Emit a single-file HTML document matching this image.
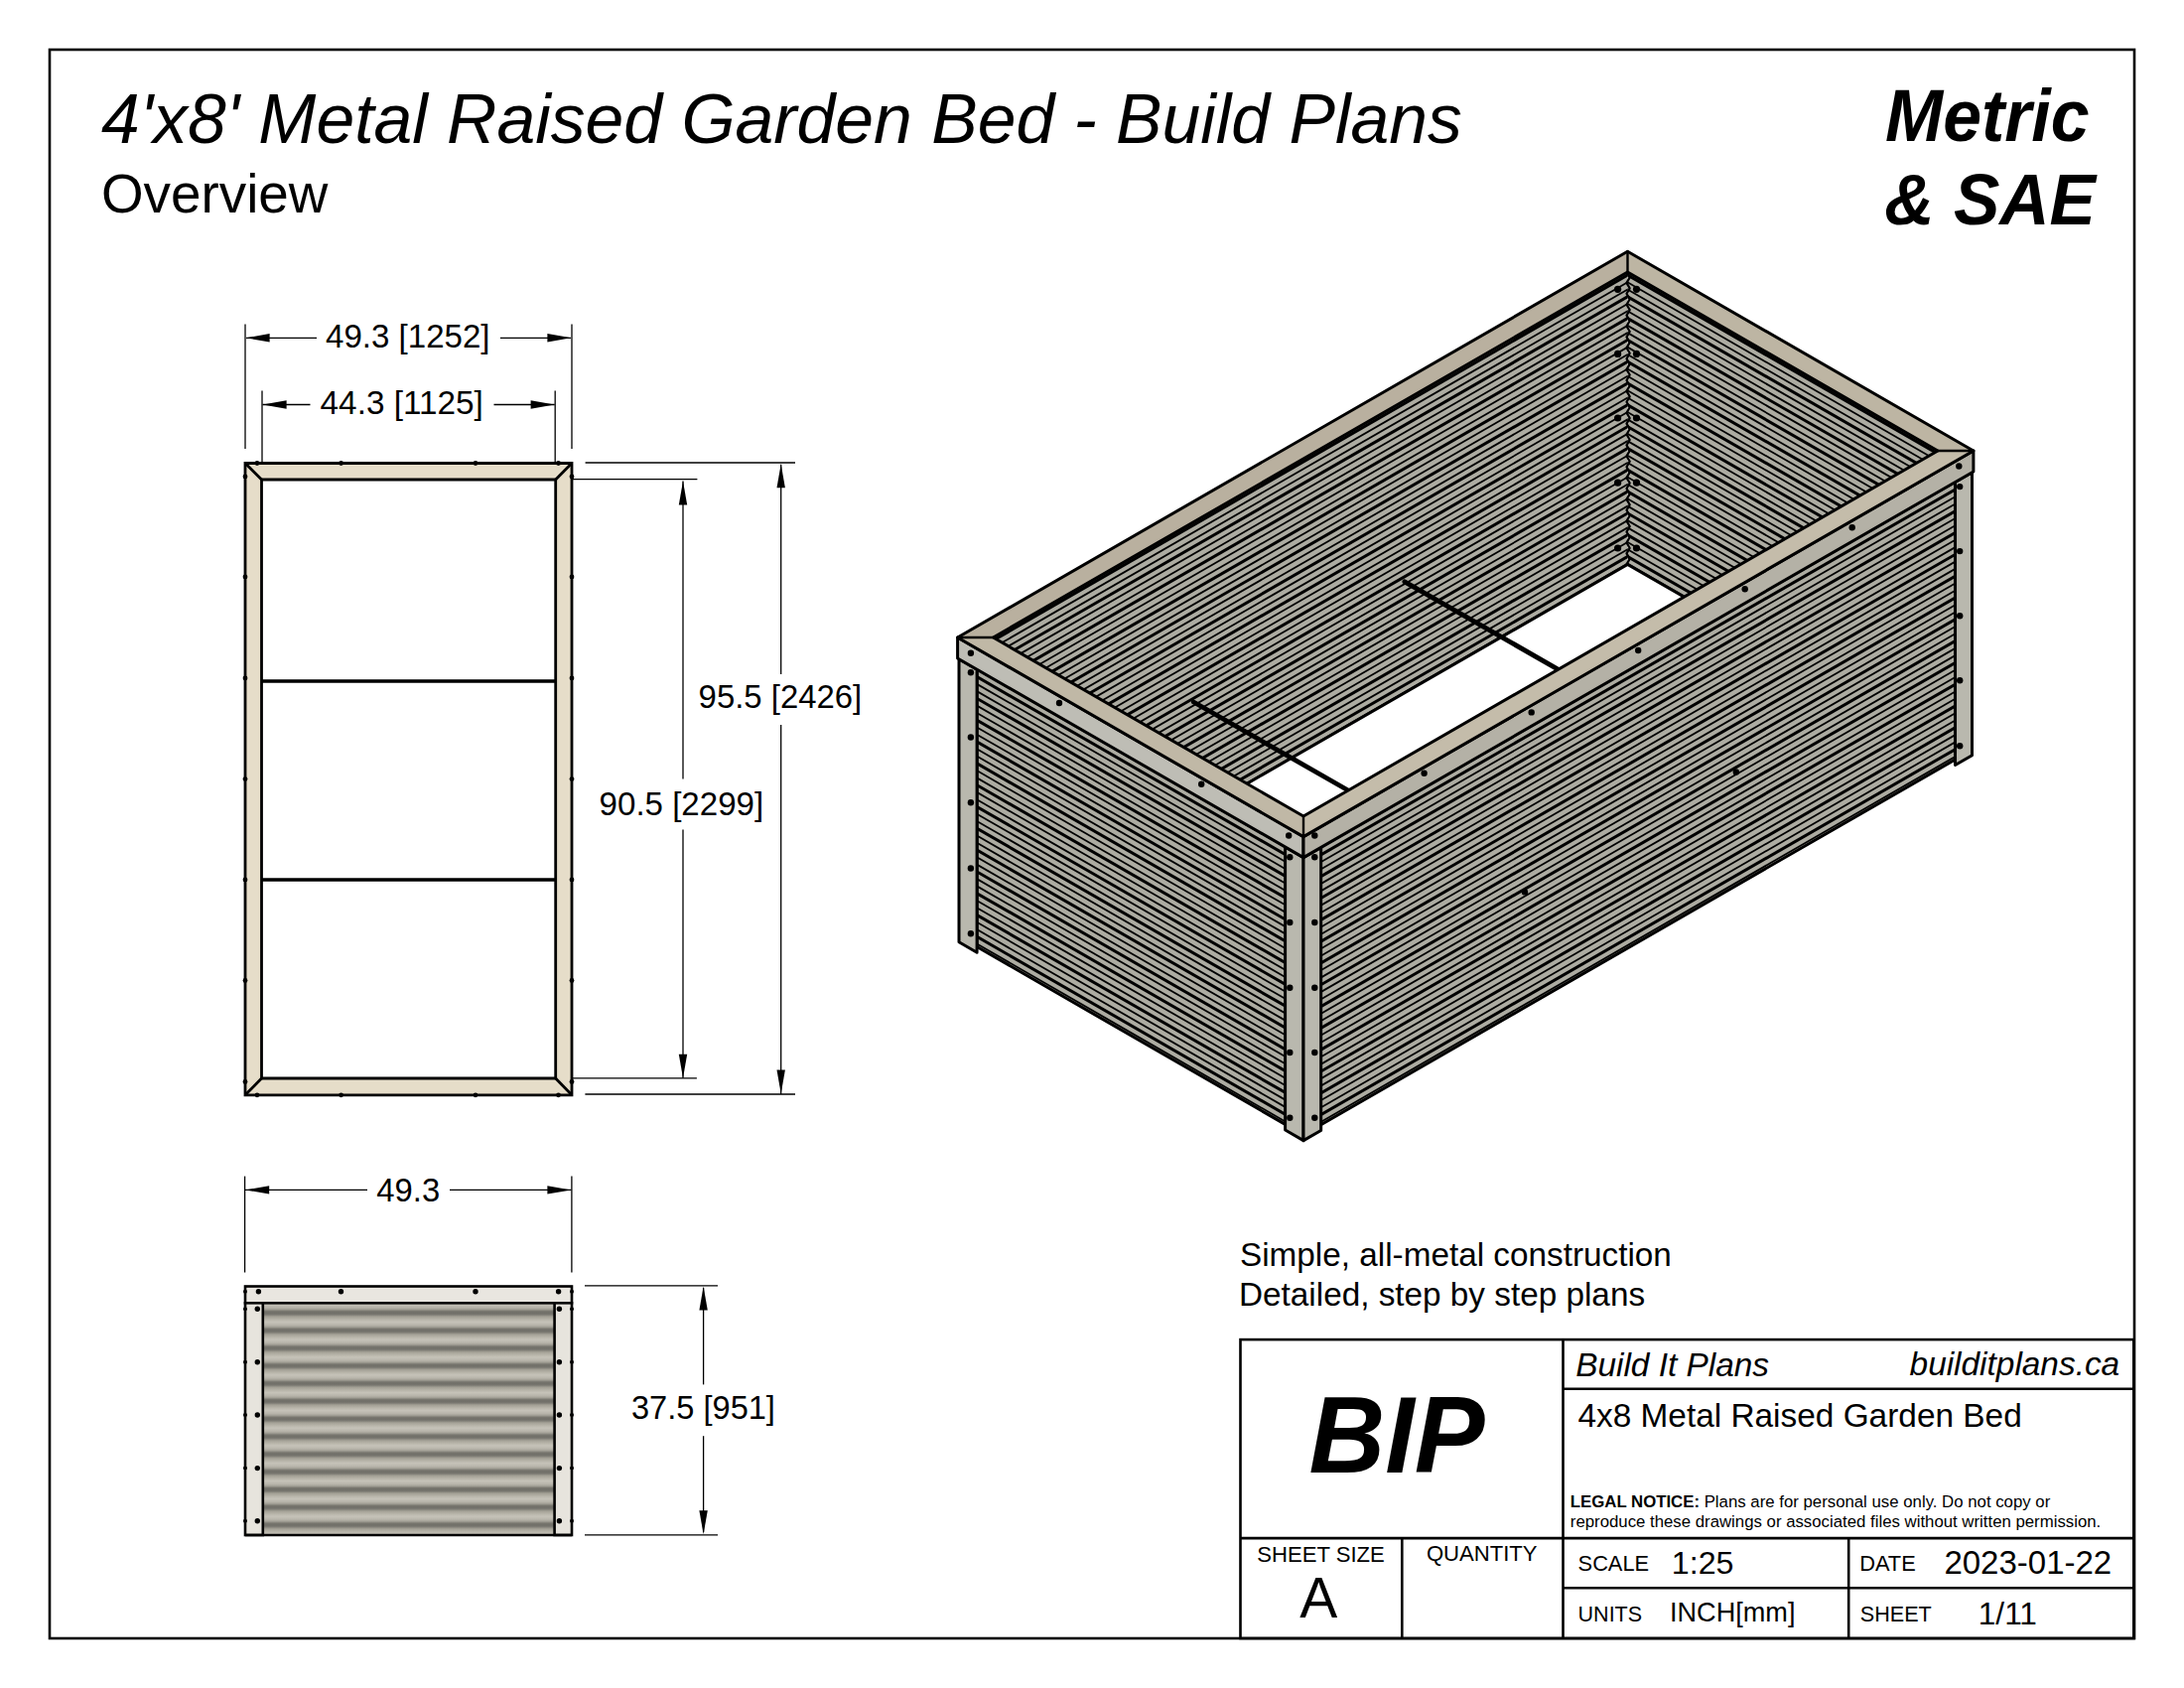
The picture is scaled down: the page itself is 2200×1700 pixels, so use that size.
<!DOCTYPE html><html><head><meta charset="utf-8"><style>html,body{margin:0;padding:0;background:#fff;}svg{display:block;}text{font-family:"Liberation Sans",sans-serif;fill:#000;}</style></head><body>
<svg width="2200" height="1700" viewBox="0 0 2200 1700">
<defs>
<linearGradient id="cg" x1="0" y1="0" x2="0" y2="1"><stop offset="0" stop-color="#6f6e67"/><stop offset="0.11" stop-color="#7a7871"/><stop offset="0.22" stop-color="#a3a095"/><stop offset="0.4" stop-color="#b9b6ab"/><stop offset="0.52" stop-color="#c6c3b9"/><stop offset="0.7" stop-color="#b8b5ab"/><stop offset="0.82" stop-color="#a09e94"/><stop offset="0.9" stop-color="#7b7971"/><stop offset="1" stop-color="#6f6e67"/></linearGradient>
<pattern id="corr" patternUnits="userSpaceOnUse" x="0" y="1304.2" width="20" height="17.8"><rect width="20" height="17.8" fill="url(#cg)"/></pattern>
</defs>
<rect width="2200" height="1700" fill="#fff"/>
<rect x="50" y="50" width="2100" height="1600" fill="none" stroke="#000" stroke-width="2.6"/>
<text x="102" y="144.2" font-size="69.7" font-style="italic">4'x8' Metal Raised Garden Bed - Build Plans</text>
<text x="102" y="214.2" font-size="54.8">Overview</text>
<text transform="translate(1899,142) scale(1,1.055)" font-size="69.8" font-style="italic" font-weight="bold">Metric</text>
<text transform="translate(1898.3,226) scale(1,1.045)" font-size="69.6" font-style="italic" font-weight="bold">&amp; SAE</text>
<path d="M247,466.5H576V1102.8H247Z M263.5,483V1086H559.7V483Z" fill="#e6ddc9" fill-rule="evenodd" stroke="#000" stroke-width="2.8" stroke-linejoin="miter"/>
<line x1="247" y1="466.5" x2="263.5" y2="483" stroke="#000" stroke-width="2.8" />
<line x1="576" y1="466.5" x2="559.7" y2="483" stroke="#000" stroke-width="2.8" />
<line x1="247" y1="1102.8" x2="263.5" y2="1086" stroke="#000" stroke-width="2.8" />
<line x1="576" y1="1102.8" x2="559.7" y2="1086" stroke="#000" stroke-width="2.8" />
<line x1="263.5" y1="686" x2="559.7" y2="686" stroke="#000" stroke-width="3.6" />
<line x1="263.5" y1="886" x2="559.7" y2="886" stroke="#000" stroke-width="3.6" />
<circle cx="259" cy="466.5" r="2.4"/>
<circle cx="259" cy="1102.8" r="2.4"/>
<circle cx="343.6" cy="466.5" r="2.4"/>
<circle cx="343.6" cy="1102.8" r="2.4"/>
<circle cx="479" cy="466.5" r="2.4"/>
<circle cx="479" cy="1102.8" r="2.4"/>
<circle cx="562.5" cy="466.5" r="2.4"/>
<circle cx="562.5" cy="1102.8" r="2.4"/>
<circle cx="247" cy="480" r="2.4"/>
<circle cx="576" cy="480" r="2.4"/>
<circle cx="247" cy="581" r="2.4"/>
<circle cx="576" cy="581" r="2.4"/>
<circle cx="247" cy="683" r="2.4"/>
<circle cx="576" cy="683" r="2.4"/>
<circle cx="247" cy="784.6" r="2.4"/>
<circle cx="576" cy="784.6" r="2.4"/>
<circle cx="247" cy="886" r="2.4"/>
<circle cx="576" cy="886" r="2.4"/>
<circle cx="247" cy="987.5" r="2.4"/>
<circle cx="576" cy="987.5" r="2.4"/>
<circle cx="247" cy="1089.5" r="2.4"/>
<circle cx="576" cy="1089.5" r="2.4"/>
<line x1="247" y1="326.6" x2="247" y2="452" stroke="#000" stroke-width="1.3" />
<line x1="576" y1="326.6" x2="576" y2="452" stroke="#000" stroke-width="1.3" />
<line x1="264" y1="393.4" x2="264" y2="466" stroke="#000" stroke-width="1.3" />
<line x1="559.2" y1="393.4" x2="559.2" y2="466" stroke="#000" stroke-width="1.3" />
<line x1="248" y1="340.3" x2="319" y2="340.3" stroke="#000" stroke-width="1.3" />
<line x1="503.9" y1="340.3" x2="575" y2="340.3" stroke="#000" stroke-width="1.3" />
<polygon points="247.6,340.3 271.6,344.5 271.6,336.1"/>
<polygon points="575.4,340.3 551.4,336.1 551.4,344.5"/>
<text x="328" y="349.5" font-size="33.1">49.3 [1252]</text>
<line x1="264.5" y1="407.5" x2="312.5" y2="407.5" stroke="#000" stroke-width="1.3" />
<line x1="497.5" y1="407.5" x2="558.7" y2="407.5" stroke="#000" stroke-width="1.3" />
<polygon points="264.6,407.5 288.6,411.7 288.6,403.3"/>
<polygon points="558.6,407.5 534.6,403.3 534.6,411.7"/>
<text x="322.6" y="416.7" font-size="33.3">44.3 [1125]</text>
<line x1="589.6" y1="466" x2="801" y2="466" stroke="#000" stroke-width="1.3" />
<line x1="577" y1="482.6" x2="702.4" y2="482.6" stroke="#000" stroke-width="1.3" />
<line x1="577" y1="1085.8" x2="701.9" y2="1085.8" stroke="#000" stroke-width="1.3" />
<line x1="589.4" y1="1102" x2="801" y2="1102" stroke="#000" stroke-width="1.3" />
<line x1="688" y1="484.4" x2="688" y2="784.6" stroke="#000" stroke-width="1.3" />
<line x1="688" y1="835.6" x2="688" y2="1085.8" stroke="#000" stroke-width="1.3" />
<polygon points="688,484.4 683.8,508.4 692.2,508.4"/>
<polygon points="688,1085.8 692.2,1061.8 683.8,1061.8"/>
<text x="603.6" y="820.7" font-size="33.1">90.5 [2299]</text>
<line x1="786.7" y1="467.8" x2="786.7" y2="679" stroke="#000" stroke-width="1.3" />
<line x1="786.7" y1="729.9" x2="786.7" y2="1102" stroke="#000" stroke-width="1.3" />
<polygon points="786.7,467.2 782.5,491.2 790.9,491.2"/>
<polygon points="786.7,1101.6 790.9,1077.6 782.5,1077.6"/>
<text x="703.6" y="713.2" font-size="32.9">95.5 [2426]</text>
<rect x="264.8" y="1312.3" width="293.8" height="233.70000000000005" fill="url(#corr)"/>
<rect x="247" y="1295.5" width="329" height="16.799999999999955" fill="#e9e6e0" stroke="#000" stroke-width="2.6"/>
<rect x="247" y="1312.3" width="17.8" height="233.70000000000005" fill="#e7e4dd" stroke="#000" stroke-width="2.6"/>
<rect x="558.6" y="1312.3" width="17.4" height="233.70000000000005" fill="#e7e4dd" stroke="#000" stroke-width="2.6"/>
<line x1="247" y1="1546" x2="576" y2="1546" stroke="#000" stroke-width="2.6" />
<circle cx="260.4" cy="1300.7" r="2.7"/>
<circle cx="343.5" cy="1300.7" r="2.7"/>
<circle cx="479" cy="1300.7" r="2.7"/>
<circle cx="562.6" cy="1300.7" r="2.7"/>
<circle cx="259.3" cy="1318.2" r="2.7"/>
<circle cx="563.4" cy="1318.2" r="2.7"/>
<circle cx="247" cy="1318.2" r="2.0"/>
<circle cx="576" cy="1318.2" r="2.0"/>
<circle cx="259.3" cy="1371.8" r="2.7"/>
<circle cx="563.4" cy="1371.8" r="2.7"/>
<circle cx="247" cy="1371.8" r="2.0"/>
<circle cx="576" cy="1371.8" r="2.0"/>
<circle cx="259.3" cy="1425" r="2.7"/>
<circle cx="563.4" cy="1425" r="2.7"/>
<circle cx="247" cy="1425" r="2.0"/>
<circle cx="576" cy="1425" r="2.0"/>
<circle cx="259.3" cy="1478.6" r="2.7"/>
<circle cx="563.4" cy="1478.6" r="2.7"/>
<circle cx="247" cy="1478.6" r="2.0"/>
<circle cx="576" cy="1478.6" r="2.0"/>
<circle cx="259.3" cy="1531.7" r="2.7"/>
<circle cx="563.4" cy="1531.7" r="2.7"/>
<circle cx="247" cy="1531.7" r="2.0"/>
<circle cx="576" cy="1531.7" r="2.0"/>
<circle cx="247" cy="1300.7" r="2.0"/>
<circle cx="576" cy="1300.7" r="2.0"/>
<line x1="246.6" y1="1184.6" x2="246.6" y2="1281.5" stroke="#000" stroke-width="1.3" />
<line x1="575.9" y1="1184.6" x2="575.9" y2="1281.5" stroke="#000" stroke-width="1.3" />
<line x1="247" y1="1198.4" x2="370" y2="1198.4" stroke="#000" stroke-width="1.3" />
<line x1="453" y1="1198.4" x2="575.5" y2="1198.4" stroke="#000" stroke-width="1.3" />
<polygon points="247.2,1198.4 271.2,1202.6 271.2,1194.2"/>
<polygon points="575.4,1198.4 551.4,1194.2 551.4,1202.6"/>
<text x="379.3" y="1210.4" font-size="32.8">49.3</text>
<line x1="589" y1="1294.8" x2="723" y2="1294.8" stroke="#000" stroke-width="1.3" />
<line x1="589" y1="1545.8" x2="723" y2="1545.8" stroke="#000" stroke-width="1.3" />
<line x1="708.6" y1="1297" x2="708.6" y2="1394.4" stroke="#000" stroke-width="1.3" />
<line x1="708.6" y1="1446.2" x2="708.6" y2="1543" stroke="#000" stroke-width="1.3" />
<polygon points="708.6,1295.4 704.4,1319.4 712.8,1319.4"/>
<polygon points="708.6,1545.2 712.8,1521.2 704.4,1521.2"/>
<text x="636" y="1428.9" font-size="32.6">37.5 [951]</text>
<defs>
<clipPath id="cBL"><polygon points="1000.5,642 1639.5,273.99 1639.5,568.4 1256.1,789.2"/></clipPath>
<clipPath id="cBR"><polygon points="1639.5,273.99 1952,453.97 1696.5,601.1 1639.5,568.4"/></clipPath>
<clipPath id="cLF"><polygon points="984.1,674.2 1294.63,853.04 1294.63,1132.36 984.1,953.52"/></clipPath>
<clipPath id="cRF"><polygon points="1330.67,853.45 1969.53,485.52 1969.53,764.84 1330.67,1132.76"/></clipPath>
</defs>
<polygon points="1000.5,642 1639.5,273.99 1639.5,568.4 1256.1,789.2" fill="#adaca2" />
<polygon points="1639.5,273.99 1952,453.97 1696.5,601.1 1639.5,568.4" fill="#adaca2" />
<g clip-path="url(#cBL)">
<line x1="995.5" y1="647.88" x2="1644.5" y2="274.11" stroke="#000" stroke-width="3.0" stroke-linecap="butt"/>
<line x1="995.5" y1="655.15" x2="1644.5" y2="281.38" stroke="#000" stroke-width="1.8" stroke-linecap="butt"/>
<line x1="995.5" y1="662.42" x2="1644.5" y2="288.65" stroke="#000" stroke-width="1.8" stroke-linecap="butt"/>
<line x1="995.5" y1="669.69" x2="1644.5" y2="295.92" stroke="#000" stroke-width="3.0" stroke-linecap="butt"/>
<line x1="995.5" y1="676.96" x2="1644.5" y2="303.19" stroke="#000" stroke-width="1.8" stroke-linecap="butt"/>
<line x1="995.5" y1="684.23" x2="1644.5" y2="310.46" stroke="#000" stroke-width="1.8" stroke-linecap="butt"/>
<line x1="995.5" y1="691.5" x2="1644.5" y2="317.73" stroke="#000" stroke-width="3.0" stroke-linecap="butt"/>
<line x1="995.5" y1="698.77" x2="1644.5" y2="325" stroke="#000" stroke-width="1.8" stroke-linecap="butt"/>
<line x1="995.5" y1="706.04" x2="1644.5" y2="332.27" stroke="#000" stroke-width="1.8" stroke-linecap="butt"/>
<line x1="995.5" y1="713.31" x2="1644.5" y2="339.54" stroke="#000" stroke-width="3.0" stroke-linecap="butt"/>
<line x1="995.5" y1="720.58" x2="1644.5" y2="346.81" stroke="#000" stroke-width="1.8" stroke-linecap="butt"/>
<line x1="995.5" y1="727.85" x2="1644.5" y2="354.08" stroke="#000" stroke-width="1.8" stroke-linecap="butt"/>
<line x1="995.5" y1="735.12" x2="1644.5" y2="361.35" stroke="#000" stroke-width="3.0" stroke-linecap="butt"/>
<line x1="995.5" y1="742.39" x2="1644.5" y2="368.62" stroke="#000" stroke-width="1.8" stroke-linecap="butt"/>
<line x1="995.5" y1="749.66" x2="1644.5" y2="375.89" stroke="#000" stroke-width="1.8" stroke-linecap="butt"/>
<line x1="995.5" y1="756.93" x2="1644.5" y2="383.16" stroke="#000" stroke-width="3.0" stroke-linecap="butt"/>
<line x1="995.5" y1="764.2" x2="1644.5" y2="390.43" stroke="#000" stroke-width="1.8" stroke-linecap="butt"/>
<line x1="995.5" y1="771.47" x2="1644.5" y2="397.7" stroke="#000" stroke-width="1.8" stroke-linecap="butt"/>
<line x1="995.5" y1="778.74" x2="1644.5" y2="404.97" stroke="#000" stroke-width="3.0" stroke-linecap="butt"/>
<line x1="995.5" y1="786.01" x2="1644.5" y2="412.24" stroke="#000" stroke-width="1.8" stroke-linecap="butt"/>
<line x1="995.5" y1="793.28" x2="1644.5" y2="419.51" stroke="#000" stroke-width="1.8" stroke-linecap="butt"/>
<line x1="995.5" y1="800.55" x2="1644.5" y2="426.78" stroke="#000" stroke-width="3.0" stroke-linecap="butt"/>
<line x1="995.5" y1="807.82" x2="1644.5" y2="434.05" stroke="#000" stroke-width="1.8" stroke-linecap="butt"/>
<line x1="995.5" y1="815.09" x2="1644.5" y2="441.32" stroke="#000" stroke-width="1.8" stroke-linecap="butt"/>
<line x1="995.5" y1="822.36" x2="1644.5" y2="448.59" stroke="#000" stroke-width="3.0" stroke-linecap="butt"/>
<line x1="995.5" y1="829.63" x2="1644.5" y2="455.86" stroke="#000" stroke-width="1.8" stroke-linecap="butt"/>
<line x1="995.5" y1="836.9" x2="1644.5" y2="463.13" stroke="#000" stroke-width="1.8" stroke-linecap="butt"/>
<line x1="995.5" y1="844.17" x2="1644.5" y2="470.4" stroke="#000" stroke-width="3.0" stroke-linecap="butt"/>
<line x1="995.5" y1="851.44" x2="1644.5" y2="477.67" stroke="#000" stroke-width="1.8" stroke-linecap="butt"/>
<line x1="995.5" y1="858.71" x2="1644.5" y2="484.94" stroke="#000" stroke-width="1.8" stroke-linecap="butt"/>
<line x1="995.5" y1="865.98" x2="1644.5" y2="492.21" stroke="#000" stroke-width="3.0" stroke-linecap="butt"/>
<line x1="995.5" y1="873.25" x2="1644.5" y2="499.48" stroke="#000" stroke-width="1.8" stroke-linecap="butt"/>
<line x1="995.5" y1="880.52" x2="1644.5" y2="506.75" stroke="#000" stroke-width="1.8" stroke-linecap="butt"/>
<line x1="995.5" y1="887.79" x2="1644.5" y2="514.02" stroke="#000" stroke-width="3.0" stroke-linecap="butt"/>
<line x1="995.5" y1="895.06" x2="1644.5" y2="521.29" stroke="#000" stroke-width="1.8" stroke-linecap="butt"/>
<line x1="995.5" y1="902.33" x2="1644.5" y2="528.56" stroke="#000" stroke-width="1.8" stroke-linecap="butt"/>
<line x1="995.5" y1="909.6" x2="1644.5" y2="535.83" stroke="#000" stroke-width="3.0" stroke-linecap="butt"/>
<line x1="995.5" y1="916.87" x2="1644.5" y2="543.1" stroke="#000" stroke-width="1.8" stroke-linecap="butt"/>
<line x1="995.5" y1="924.14" x2="1644.5" y2="550.37" stroke="#000" stroke-width="1.8" stroke-linecap="butt"/>
<line x1="995.5" y1="931.41" x2="1644.5" y2="557.64" stroke="#000" stroke-width="3.0" stroke-linecap="butt"/>
<line x1="995.5" y1="938.68" x2="1644.5" y2="564.91" stroke="#000" stroke-width="1.8" stroke-linecap="butt"/>
<line x1="995.5" y1="945.95" x2="1644.5" y2="572.18" stroke="#000" stroke-width="1.8" stroke-linecap="butt"/>
<line x1="995.5" y1="953.22" x2="1644.5" y2="579.45" stroke="#000" stroke-width="3.0" stroke-linecap="butt"/>
<line x1="995.5" y1="960.49" x2="1644.5" y2="586.72" stroke="#000" stroke-width="1.8" stroke-linecap="butt"/>
<line x1="995.5" y1="967.76" x2="1644.5" y2="593.99" stroke="#000" stroke-width="1.8" stroke-linecap="butt"/>
<line x1="995.5" y1="975.03" x2="1644.5" y2="601.26" stroke="#000" stroke-width="3.0" stroke-linecap="butt"/>
<line x1="995.5" y1="982.3" x2="1644.5" y2="608.53" stroke="#000" stroke-width="1.8" stroke-linecap="butt"/>
<line x1="995.5" y1="989.57" x2="1644.5" y2="615.8" stroke="#000" stroke-width="1.8" stroke-linecap="butt"/>
</g>
<g clip-path="url(#cBR)">
<line x1="1634.5" y1="274.11" x2="1957" y2="459.85" stroke="#000" stroke-width="3.0" stroke-linecap="butt"/>
<line x1="1634.5" y1="281.38" x2="1957" y2="467.12" stroke="#000" stroke-width="1.8" stroke-linecap="butt"/>
<line x1="1634.5" y1="288.65" x2="1957" y2="474.39" stroke="#000" stroke-width="1.8" stroke-linecap="butt"/>
<line x1="1634.5" y1="295.92" x2="1957" y2="481.66" stroke="#000" stroke-width="3.0" stroke-linecap="butt"/>
<line x1="1634.5" y1="303.19" x2="1957" y2="488.93" stroke="#000" stroke-width="1.8" stroke-linecap="butt"/>
<line x1="1634.5" y1="310.46" x2="1957" y2="496.2" stroke="#000" stroke-width="1.8" stroke-linecap="butt"/>
<line x1="1634.5" y1="317.73" x2="1957" y2="503.47" stroke="#000" stroke-width="3.0" stroke-linecap="butt"/>
<line x1="1634.5" y1="325" x2="1957" y2="510.74" stroke="#000" stroke-width="1.8" stroke-linecap="butt"/>
<line x1="1634.5" y1="332.27" x2="1957" y2="518.01" stroke="#000" stroke-width="1.8" stroke-linecap="butt"/>
<line x1="1634.5" y1="339.54" x2="1957" y2="525.28" stroke="#000" stroke-width="3.0" stroke-linecap="butt"/>
<line x1="1634.5" y1="346.81" x2="1957" y2="532.55" stroke="#000" stroke-width="1.8" stroke-linecap="butt"/>
<line x1="1634.5" y1="354.08" x2="1957" y2="539.82" stroke="#000" stroke-width="1.8" stroke-linecap="butt"/>
<line x1="1634.5" y1="361.35" x2="1957" y2="547.09" stroke="#000" stroke-width="3.0" stroke-linecap="butt"/>
<line x1="1634.5" y1="368.62" x2="1957" y2="554.36" stroke="#000" stroke-width="1.8" stroke-linecap="butt"/>
<line x1="1634.5" y1="375.89" x2="1957" y2="561.63" stroke="#000" stroke-width="1.8" stroke-linecap="butt"/>
<line x1="1634.5" y1="383.16" x2="1957" y2="568.9" stroke="#000" stroke-width="3.0" stroke-linecap="butt"/>
<line x1="1634.5" y1="390.43" x2="1957" y2="576.17" stroke="#000" stroke-width="1.8" stroke-linecap="butt"/>
<line x1="1634.5" y1="397.7" x2="1957" y2="583.44" stroke="#000" stroke-width="1.8" stroke-linecap="butt"/>
<line x1="1634.5" y1="404.97" x2="1957" y2="590.71" stroke="#000" stroke-width="3.0" stroke-linecap="butt"/>
<line x1="1634.5" y1="412.24" x2="1957" y2="597.98" stroke="#000" stroke-width="1.8" stroke-linecap="butt"/>
<line x1="1634.5" y1="419.51" x2="1957" y2="605.25" stroke="#000" stroke-width="1.8" stroke-linecap="butt"/>
<line x1="1634.5" y1="426.78" x2="1957" y2="612.52" stroke="#000" stroke-width="3.0" stroke-linecap="butt"/>
<line x1="1634.5" y1="434.05" x2="1957" y2="619.79" stroke="#000" stroke-width="1.8" stroke-linecap="butt"/>
<line x1="1634.5" y1="441.32" x2="1957" y2="627.06" stroke="#000" stroke-width="1.8" stroke-linecap="butt"/>
<line x1="1634.5" y1="448.59" x2="1957" y2="634.33" stroke="#000" stroke-width="3.0" stroke-linecap="butt"/>
<line x1="1634.5" y1="455.86" x2="1957" y2="641.6" stroke="#000" stroke-width="1.8" stroke-linecap="butt"/>
<line x1="1634.5" y1="463.13" x2="1957" y2="648.87" stroke="#000" stroke-width="1.8" stroke-linecap="butt"/>
<line x1="1634.5" y1="470.4" x2="1957" y2="656.14" stroke="#000" stroke-width="3.0" stroke-linecap="butt"/>
<line x1="1634.5" y1="477.67" x2="1957" y2="663.41" stroke="#000" stroke-width="1.8" stroke-linecap="butt"/>
<line x1="1634.5" y1="484.94" x2="1957" y2="670.68" stroke="#000" stroke-width="1.8" stroke-linecap="butt"/>
<line x1="1634.5" y1="492.21" x2="1957" y2="677.95" stroke="#000" stroke-width="3.0" stroke-linecap="butt"/>
<line x1="1634.5" y1="499.48" x2="1957" y2="685.22" stroke="#000" stroke-width="1.8" stroke-linecap="butt"/>
<line x1="1634.5" y1="506.75" x2="1957" y2="692.49" stroke="#000" stroke-width="1.8" stroke-linecap="butt"/>
<line x1="1634.5" y1="514.02" x2="1957" y2="699.76" stroke="#000" stroke-width="3.0" stroke-linecap="butt"/>
<line x1="1634.5" y1="521.29" x2="1957" y2="707.03" stroke="#000" stroke-width="1.8" stroke-linecap="butt"/>
<line x1="1634.5" y1="528.56" x2="1957" y2="714.3" stroke="#000" stroke-width="1.8" stroke-linecap="butt"/>
<line x1="1634.5" y1="535.83" x2="1957" y2="721.57" stroke="#000" stroke-width="3.0" stroke-linecap="butt"/>
<line x1="1634.5" y1="543.1" x2="1957" y2="728.84" stroke="#000" stroke-width="1.8" stroke-linecap="butt"/>
<line x1="1634.5" y1="550.37" x2="1957" y2="736.11" stroke="#000" stroke-width="1.8" stroke-linecap="butt"/>
<line x1="1634.5" y1="557.64" x2="1957" y2="743.38" stroke="#000" stroke-width="3.0" stroke-linecap="butt"/>
<line x1="1634.5" y1="564.91" x2="1957" y2="750.65" stroke="#000" stroke-width="1.8" stroke-linecap="butt"/>
<line x1="1634.5" y1="572.18" x2="1957" y2="757.92" stroke="#000" stroke-width="1.8" stroke-linecap="butt"/>
<line x1="1634.5" y1="579.45" x2="1957" y2="765.19" stroke="#000" stroke-width="3.0" stroke-linecap="butt"/>
<line x1="1634.5" y1="586.72" x2="1957" y2="772.46" stroke="#000" stroke-width="1.8" stroke-linecap="butt"/>
<line x1="1634.5" y1="593.99" x2="1957" y2="779.73" stroke="#000" stroke-width="1.8" stroke-linecap="butt"/>
<line x1="1634.5" y1="601.26" x2="1957" y2="787" stroke="#000" stroke-width="3.0" stroke-linecap="butt"/>
<line x1="1634.5" y1="608.53" x2="1957" y2="794.27" stroke="#000" stroke-width="1.8" stroke-linecap="butt"/>
<line x1="1634.5" y1="615.8" x2="1957" y2="801.54" stroke="#000" stroke-width="1.8" stroke-linecap="butt"/>
</g>
<polyline points="1638.5,273.99 1641.7,279.44 1638.5,284.89 1641.7,290.34 1638.5,295.79 1641.7,301.24 1638.5,306.69 1641.7,312.14 1638.5,317.59 1641.7,323.04 1638.5,328.49 1641.7,333.94 1638.5,339.39 1641.7,344.84 1638.5,350.29 1641.7,355.74 1638.5,361.19 1641.7,366.64 1638.5,372.09 1641.7,377.54 1638.5,382.99 1641.7,388.44 1638.5,393.89 1641.7,399.34 1638.5,404.79 1641.7,410.24 1638.5,415.69 1641.7,421.14 1638.5,426.59 1641.7,432.04 1638.5,437.49 1641.7,442.94 1638.5,448.39 1641.7,453.84 1638.5,459.29 1641.7,464.74 1638.5,470.19 1641.7,475.64 1638.5,481.09 1641.7,486.54 1638.5,491.99 1641.7,497.44 1638.5,502.89 1641.7,508.34 1638.5,513.79 1641.7,519.24 1638.5,524.69 1641.7,530.14 1638.5,535.59 1641.7,541.04 1638.5,546.49 1641.7,551.94 1638.5,557.39 1641.7,562.84 1638.5,568.29 1639.5,568.4" fill="none" stroke="#000" stroke-width="2.2" stroke-linejoin="round"/>
<line x1="1639.5" y1="568.4" x2="1256.1" y2="789.2" stroke="#000" stroke-width="3.0" stroke-linecap="round"/>
<line x1="1639.5" y1="568.4" x2="1696.5" y2="601.1" stroke="#000" stroke-width="3.0" stroke-linecap="round"/>
<circle cx="1629.6" cy="291.3" r="3.6"/>
<circle cx="1648.5" cy="291.3" r="3.6"/>
<circle cx="1629.6" cy="356.4" r="3.6"/>
<circle cx="1648.5" cy="356.4" r="3.6"/>
<circle cx="1629.6" cy="421" r="3.6"/>
<circle cx="1648.5" cy="421" r="3.6"/>
<circle cx="1629.6" cy="486.2" r="3.6"/>
<circle cx="1648.5" cy="486.2" r="3.6"/>
<circle cx="1629.6" cy="552" r="3.6"/>
<circle cx="1648.5" cy="552" r="3.6"/>
<line x1="1202.3" y1="707" x2="1358" y2="796" stroke="#000" stroke-width="4.8" stroke-linecap="round"/>
<line x1="1414.9" y1="585.8" x2="1570.7" y2="674.8" stroke="#000" stroke-width="4.8" stroke-linecap="round"/>
<polygon points="984.1,674.2 1294.63,853.04 1294.63,1132.36 984.1,953.52" fill="#adaca2" />
<polygon points="1330.67,853.45 1969.53,485.52 1969.53,764.84 1330.67,1132.76" fill="#adaca2" />
<g clip-path="url(#cLF)">
<line x1="982.1" y1="658.67" x2="1296.63" y2="839.81" stroke="#000" stroke-width="3.0" stroke-linecap="butt"/>
<line x1="982.1" y1="665.94" x2="1296.63" y2="847.08" stroke="#000" stroke-width="1.8" stroke-linecap="butt"/>
<line x1="982.1" y1="673.21" x2="1296.63" y2="854.35" stroke="#000" stroke-width="1.8" stroke-linecap="butt"/>
<line x1="982.1" y1="680.48" x2="1296.63" y2="861.62" stroke="#000" stroke-width="3.0" stroke-linecap="butt"/>
<line x1="982.1" y1="687.75" x2="1296.63" y2="868.89" stroke="#000" stroke-width="1.8" stroke-linecap="butt"/>
<line x1="982.1" y1="695.02" x2="1296.63" y2="876.16" stroke="#000" stroke-width="1.8" stroke-linecap="butt"/>
<line x1="982.1" y1="702.29" x2="1296.63" y2="883.43" stroke="#000" stroke-width="3.0" stroke-linecap="butt"/>
<line x1="982.1" y1="709.56" x2="1296.63" y2="890.7" stroke="#000" stroke-width="1.8" stroke-linecap="butt"/>
<line x1="982.1" y1="716.83" x2="1296.63" y2="897.97" stroke="#000" stroke-width="1.8" stroke-linecap="butt"/>
<line x1="982.1" y1="724.1" x2="1296.63" y2="905.24" stroke="#000" stroke-width="3.0" stroke-linecap="butt"/>
<line x1="982.1" y1="731.37" x2="1296.63" y2="912.51" stroke="#000" stroke-width="1.8" stroke-linecap="butt"/>
<line x1="982.1" y1="738.64" x2="1296.63" y2="919.78" stroke="#000" stroke-width="1.8" stroke-linecap="butt"/>
<line x1="982.1" y1="745.91" x2="1296.63" y2="927.05" stroke="#000" stroke-width="3.0" stroke-linecap="butt"/>
<line x1="982.1" y1="753.18" x2="1296.63" y2="934.32" stroke="#000" stroke-width="1.8" stroke-linecap="butt"/>
<line x1="982.1" y1="760.45" x2="1296.63" y2="941.59" stroke="#000" stroke-width="1.8" stroke-linecap="butt"/>
<line x1="982.1" y1="767.72" x2="1296.63" y2="948.86" stroke="#000" stroke-width="3.0" stroke-linecap="butt"/>
<line x1="982.1" y1="774.99" x2="1296.63" y2="956.13" stroke="#000" stroke-width="1.8" stroke-linecap="butt"/>
<line x1="982.1" y1="782.26" x2="1296.63" y2="963.4" stroke="#000" stroke-width="1.8" stroke-linecap="butt"/>
<line x1="982.1" y1="789.53" x2="1296.63" y2="970.67" stroke="#000" stroke-width="3.0" stroke-linecap="butt"/>
<line x1="982.1" y1="796.8" x2="1296.63" y2="977.94" stroke="#000" stroke-width="1.8" stroke-linecap="butt"/>
<line x1="982.1" y1="804.07" x2="1296.63" y2="985.21" stroke="#000" stroke-width="1.8" stroke-linecap="butt"/>
<line x1="982.1" y1="811.34" x2="1296.63" y2="992.48" stroke="#000" stroke-width="3.0" stroke-linecap="butt"/>
<line x1="982.1" y1="818.61" x2="1296.63" y2="999.75" stroke="#000" stroke-width="1.8" stroke-linecap="butt"/>
<line x1="982.1" y1="825.88" x2="1296.63" y2="1007.02" stroke="#000" stroke-width="1.8" stroke-linecap="butt"/>
<line x1="982.1" y1="833.15" x2="1296.63" y2="1014.29" stroke="#000" stroke-width="3.0" stroke-linecap="butt"/>
<line x1="982.1" y1="840.42" x2="1296.63" y2="1021.56" stroke="#000" stroke-width="1.8" stroke-linecap="butt"/>
<line x1="982.1" y1="847.69" x2="1296.63" y2="1028.83" stroke="#000" stroke-width="1.8" stroke-linecap="butt"/>
<line x1="982.1" y1="854.96" x2="1296.63" y2="1036.1" stroke="#000" stroke-width="3.0" stroke-linecap="butt"/>
<line x1="982.1" y1="862.23" x2="1296.63" y2="1043.37" stroke="#000" stroke-width="1.8" stroke-linecap="butt"/>
<line x1="982.1" y1="869.5" x2="1296.63" y2="1050.64" stroke="#000" stroke-width="1.8" stroke-linecap="butt"/>
<line x1="982.1" y1="876.77" x2="1296.63" y2="1057.91" stroke="#000" stroke-width="3.0" stroke-linecap="butt"/>
<line x1="982.1" y1="884.04" x2="1296.63" y2="1065.18" stroke="#000" stroke-width="1.8" stroke-linecap="butt"/>
<line x1="982.1" y1="891.31" x2="1296.63" y2="1072.45" stroke="#000" stroke-width="1.8" stroke-linecap="butt"/>
<line x1="982.1" y1="898.58" x2="1296.63" y2="1079.72" stroke="#000" stroke-width="3.0" stroke-linecap="butt"/>
<line x1="982.1" y1="905.85" x2="1296.63" y2="1086.99" stroke="#000" stroke-width="1.8" stroke-linecap="butt"/>
<line x1="982.1" y1="913.12" x2="1296.63" y2="1094.26" stroke="#000" stroke-width="1.8" stroke-linecap="butt"/>
<line x1="982.1" y1="920.39" x2="1296.63" y2="1101.53" stroke="#000" stroke-width="3.0" stroke-linecap="butt"/>
<line x1="982.1" y1="927.66" x2="1296.63" y2="1108.8" stroke="#000" stroke-width="1.8" stroke-linecap="butt"/>
<line x1="982.1" y1="934.93" x2="1296.63" y2="1116.07" stroke="#000" stroke-width="1.8" stroke-linecap="butt"/>
<line x1="982.1" y1="942.2" x2="1296.63" y2="1123.34" stroke="#000" stroke-width="3.0" stroke-linecap="butt"/>
<line x1="982.1" y1="949.47" x2="1296.63" y2="1130.61" stroke="#000" stroke-width="1.8" stroke-linecap="butt"/>
<line x1="982.1" y1="956.74" x2="1296.63" y2="1137.88" stroke="#000" stroke-width="1.8" stroke-linecap="butt"/>
<line x1="982.1" y1="964.01" x2="1296.63" y2="1145.15" stroke="#000" stroke-width="3.0" stroke-linecap="butt"/>
<line x1="982.1" y1="971.28" x2="1296.63" y2="1152.42" stroke="#000" stroke-width="1.8" stroke-linecap="butt"/>
</g>
<g clip-path="url(#cRF)">
<line x1="1328.67" y1="840.22" x2="1971.53" y2="469.99" stroke="#000" stroke-width="3.0" stroke-linecap="butt"/>
<line x1="1328.67" y1="847.49" x2="1971.53" y2="477.26" stroke="#000" stroke-width="1.8" stroke-linecap="butt"/>
<line x1="1328.67" y1="854.76" x2="1971.53" y2="484.53" stroke="#000" stroke-width="1.8" stroke-linecap="butt"/>
<line x1="1328.67" y1="862.03" x2="1971.53" y2="491.8" stroke="#000" stroke-width="3.0" stroke-linecap="butt"/>
<line x1="1328.67" y1="869.3" x2="1971.53" y2="499.07" stroke="#000" stroke-width="1.8" stroke-linecap="butt"/>
<line x1="1328.67" y1="876.57" x2="1971.53" y2="506.34" stroke="#000" stroke-width="1.8" stroke-linecap="butt"/>
<line x1="1328.67" y1="883.84" x2="1971.53" y2="513.61" stroke="#000" stroke-width="3.0" stroke-linecap="butt"/>
<line x1="1328.67" y1="891.11" x2="1971.53" y2="520.88" stroke="#000" stroke-width="1.8" stroke-linecap="butt"/>
<line x1="1328.67" y1="898.38" x2="1971.53" y2="528.15" stroke="#000" stroke-width="1.8" stroke-linecap="butt"/>
<line x1="1328.67" y1="905.65" x2="1971.53" y2="535.42" stroke="#000" stroke-width="3.0" stroke-linecap="butt"/>
<line x1="1328.67" y1="912.92" x2="1971.53" y2="542.69" stroke="#000" stroke-width="1.8" stroke-linecap="butt"/>
<line x1="1328.67" y1="920.19" x2="1971.53" y2="549.96" stroke="#000" stroke-width="1.8" stroke-linecap="butt"/>
<line x1="1328.67" y1="927.46" x2="1971.53" y2="557.23" stroke="#000" stroke-width="3.0" stroke-linecap="butt"/>
<line x1="1328.67" y1="934.73" x2="1971.53" y2="564.5" stroke="#000" stroke-width="1.8" stroke-linecap="butt"/>
<line x1="1328.67" y1="942" x2="1971.53" y2="571.77" stroke="#000" stroke-width="1.8" stroke-linecap="butt"/>
<line x1="1328.67" y1="949.27" x2="1971.53" y2="579.04" stroke="#000" stroke-width="3.0" stroke-linecap="butt"/>
<line x1="1328.67" y1="956.54" x2="1971.53" y2="586.31" stroke="#000" stroke-width="1.8" stroke-linecap="butt"/>
<line x1="1328.67" y1="963.81" x2="1971.53" y2="593.58" stroke="#000" stroke-width="1.8" stroke-linecap="butt"/>
<line x1="1328.67" y1="971.08" x2="1971.53" y2="600.85" stroke="#000" stroke-width="3.0" stroke-linecap="butt"/>
<line x1="1328.67" y1="978.35" x2="1971.53" y2="608.12" stroke="#000" stroke-width="1.8" stroke-linecap="butt"/>
<line x1="1328.67" y1="985.62" x2="1971.53" y2="615.39" stroke="#000" stroke-width="1.8" stroke-linecap="butt"/>
<line x1="1328.67" y1="992.89" x2="1971.53" y2="622.66" stroke="#000" stroke-width="3.0" stroke-linecap="butt"/>
<line x1="1328.67" y1="1000.16" x2="1971.53" y2="629.93" stroke="#000" stroke-width="1.8" stroke-linecap="butt"/>
<line x1="1328.67" y1="1007.43" x2="1971.53" y2="637.2" stroke="#000" stroke-width="1.8" stroke-linecap="butt"/>
<line x1="1328.67" y1="1014.7" x2="1971.53" y2="644.47" stroke="#000" stroke-width="3.0" stroke-linecap="butt"/>
<line x1="1328.67" y1="1021.97" x2="1971.53" y2="651.74" stroke="#000" stroke-width="1.8" stroke-linecap="butt"/>
<line x1="1328.67" y1="1029.24" x2="1971.53" y2="659.01" stroke="#000" stroke-width="1.8" stroke-linecap="butt"/>
<line x1="1328.67" y1="1036.51" x2="1971.53" y2="666.28" stroke="#000" stroke-width="3.0" stroke-linecap="butt"/>
<line x1="1328.67" y1="1043.78" x2="1971.53" y2="673.55" stroke="#000" stroke-width="1.8" stroke-linecap="butt"/>
<line x1="1328.67" y1="1051.05" x2="1971.53" y2="680.82" stroke="#000" stroke-width="1.8" stroke-linecap="butt"/>
<line x1="1328.67" y1="1058.32" x2="1971.53" y2="688.09" stroke="#000" stroke-width="3.0" stroke-linecap="butt"/>
<line x1="1328.67" y1="1065.59" x2="1971.53" y2="695.36" stroke="#000" stroke-width="1.8" stroke-linecap="butt"/>
<line x1="1328.67" y1="1072.86" x2="1971.53" y2="702.63" stroke="#000" stroke-width="1.8" stroke-linecap="butt"/>
<line x1="1328.67" y1="1080.13" x2="1971.53" y2="709.9" stroke="#000" stroke-width="3.0" stroke-linecap="butt"/>
<line x1="1328.67" y1="1087.4" x2="1971.53" y2="717.17" stroke="#000" stroke-width="1.8" stroke-linecap="butt"/>
<line x1="1328.67" y1="1094.67" x2="1971.53" y2="724.44" stroke="#000" stroke-width="1.8" stroke-linecap="butt"/>
<line x1="1328.67" y1="1101.94" x2="1971.53" y2="731.71" stroke="#000" stroke-width="3.0" stroke-linecap="butt"/>
<line x1="1328.67" y1="1109.21" x2="1971.53" y2="738.98" stroke="#000" stroke-width="1.8" stroke-linecap="butt"/>
<line x1="1328.67" y1="1116.48" x2="1971.53" y2="746.25" stroke="#000" stroke-width="1.8" stroke-linecap="butt"/>
<line x1="1328.67" y1="1123.75" x2="1971.53" y2="753.52" stroke="#000" stroke-width="3.0" stroke-linecap="butt"/>
<line x1="1328.67" y1="1131.02" x2="1971.53" y2="760.79" stroke="#000" stroke-width="1.8" stroke-linecap="butt"/>
<line x1="1328.67" y1="1138.29" x2="1971.53" y2="768.06" stroke="#000" stroke-width="1.8" stroke-linecap="butt"/>
<line x1="1328.67" y1="1145.56" x2="1971.53" y2="775.33" stroke="#000" stroke-width="3.0" stroke-linecap="butt"/>
<line x1="1328.67" y1="1152.83" x2="1971.53" y2="782.6" stroke="#000" stroke-width="1.8" stroke-linecap="butt"/>
</g>
<polyline points="984.1,674.2 984.1,953.52 1294.63,1132.36" fill="none" stroke="#000" stroke-width="3.0" stroke-linejoin="round" stroke-linecap="round"/>
<polyline points="1330.67,1132.76 1969.53,764.84 1969.53,485.52" fill="none" stroke="#000" stroke-width="3.0" stroke-linejoin="round" stroke-linecap="round"/>
<polygon points="966.01,663.79 984.1,674.2 984.1,959.23 966.01,948.81" fill="#b9b8ae" stroke="#000" stroke-width="3.0" stroke-linejoin="round" />
<polygon points="1294.63,853.04 1313,863.62 1313,1148.65 1294.63,1138.07" fill="#b9b8ae" stroke="#000" stroke-width="3.0" stroke-linejoin="round" />
<polygon points="1313,863.62 1330.67,853.45 1330.67,1138.48 1313,1148.65" fill="#b9b8ae" stroke="#000" stroke-width="3.0" stroke-linejoin="round" />
<polygon points="1969.53,485.52 1986.49,475.75 1986.49,760.78 1969.53,770.55" fill="#b9b8ae" stroke="#000" stroke-width="3.0" stroke-linejoin="round" />
<circle cx="977.9" cy="677.3" r="3.2"/>
<circle cx="977.9" cy="742.5" r="3.2"/>
<circle cx="977.9" cy="808.2" r="3.2"/>
<circle cx="977.9" cy="874.5" r="3.2"/>
<circle cx="977.9" cy="940.2" r="3.2"/>
<circle cx="1299.3" cy="863.3" r="3.2"/>
<circle cx="1324.3" cy="863.3" r="3.2"/>
<circle cx="1299.3" cy="929" r="3.2"/>
<circle cx="1324.3" cy="929" r="3.2"/>
<circle cx="1299.3" cy="994.8" r="3.2"/>
<circle cx="1324.3" cy="994.8" r="3.2"/>
<circle cx="1299.3" cy="1060" r="3.2"/>
<circle cx="1324.3" cy="1060" r="3.2"/>
<circle cx="1299.3" cy="1125.7" r="3.2"/>
<circle cx="1324.3" cy="1125.7" r="3.2"/>
<circle cx="1974.2" cy="490.1" r="3.2"/>
<circle cx="1974.2" cy="555.1" r="3.2"/>
<circle cx="1974.2" cy="620.2" r="3.2"/>
<circle cx="1974.2" cy="685.2" r="3.2"/>
<circle cx="1974.2" cy="751.3" r="3.2"/>
<circle cx="1536" cy="898.4" r="3.2"/>
<circle cx="1748.8" cy="777.5" r="3.2"/>
<polygon points="964.6,642 1313,842.65 1313,863.62 964.6,662.97" fill="#bebdb5" stroke="#000" stroke-width="3.0" stroke-linejoin="round" />
<polygon points="1313,842.65 1987.9,453.97 1987.9,474.94 1313,863.62" fill="#b4b1a6" stroke="#000" stroke-width="3.0" stroke-linejoin="round" />
<polygon points="964.6,642 1639.5,253.31 1639.5,273.99 1000.5,642" fill="#b9b09f" />
<polygon points="1639.5,253.31 1987.9,453.97 1952,453.97 1639.5,273.99" fill="#bdb5a3" />
<polygon points="964.6,642 1000.5,642 1313,821.98 1313,842.65" fill="#c0b8a6" />
<polygon points="1313,842.65 1313,821.98 1952,453.97 1987.9,453.97" fill="#c4bcaa" />
<path d="M964.6,642L1639.5,253.31L1987.9,453.97L1313,842.65Z M1000.5,642L1313,821.98L1952,453.97L1639.5,273.99Z" fill="none" stroke="#000" stroke-width="3.0" stroke-linejoin="round"/>
<line x1="964.6" y1="642" x2="1000.5" y2="642" stroke="#000" stroke-width="2.4" stroke-linecap="round"/>
<line x1="1639.5" y1="253.31" x2="1639.5" y2="273.99" stroke="#000" stroke-width="2.4" stroke-linecap="round"/>
<line x1="1987.9" y1="453.97" x2="1952" y2="453.97" stroke="#000" stroke-width="2.4" stroke-linecap="round"/>
<line x1="1313" y1="842.65" x2="1313" y2="821.98" stroke="#000" stroke-width="2.4" stroke-linecap="round"/>
<circle cx="977.9" cy="657.8" r="3.2"/>
<circle cx="1067" cy="708" r="3.2"/>
<circle cx="1210.2" cy="789.8" r="3.2"/>
<circle cx="1298.2" cy="841.5" r="3.2"/>
<circle cx="1324.3" cy="841.5" r="3.2"/>
<circle cx="1434.6" cy="778.7" r="3.2"/>
<circle cx="1542.7" cy="717.4" r="3.2"/>
<circle cx="1650.2" cy="655" r="3.2"/>
<circle cx="1757.7" cy="593.2" r="3.2"/>
<circle cx="1865.7" cy="531.3" r="3.2"/>
<circle cx="1973.3" cy="469.5" r="3.2"/>
<text x="1249" y="1274.6" font-size="33.3">Simple, all-metal construction</text>
<text x="1248" y="1314.7" font-size="33.3">Detailed, step by step plans</text>
<rect x="1249.5" y="1349.1" width="899.8000000000002" height="300.9000000000001" fill="none" stroke="#000" stroke-width="2.6"/>
<line x1="1574.5" y1="1349.1" x2="1574.5" y2="1650" stroke="#000" stroke-width="2.6" />
<line x1="1249.5" y1="1549.1" x2="2149.3" y2="1549.1" stroke="#000" stroke-width="2.6" />
<line x1="1412.3" y1="1549.1" x2="1412.3" y2="1650" stroke="#000" stroke-width="2.6" />
<line x1="1574.5" y1="1398.8" x2="2149.3" y2="1398.8" stroke="#000" stroke-width="2.6" />
<line x1="1574.5" y1="1599.3" x2="2149.3" y2="1599.3" stroke="#000" stroke-width="2.6" />
<line x1="1862.2" y1="1549.1" x2="1862.2" y2="1650" stroke="#000" stroke-width="2.6" />
<text transform="translate(1318.5,1483.2) scale(1,1.025)" font-size="106.2" font-style="italic" font-weight="bold">BIP</text>
<text x="1266.3" y="1572.7" font-size="22.1">SHEET SIZE</text>
<text x="1309.2" y="1629.2" font-size="57">A</text>
<text x="1436.9" y="1572.1" font-size="22.1">QUANTITY</text>
<text x="1587.2" y="1386.3" font-size="33.4" font-style="italic">Build It Plans</text>
<text x="2135.2" y="1385.3" font-size="33.4" font-style="italic" text-anchor="end">builditplans.ca</text>
<text x="1589.4" y="1437.3" font-size="33.4">4x8 Metal Raised Garden Bed</text>
<text x="1581.8" y="1518" font-size="16.8"><tspan font-weight="bold">LEGAL NOTICE:</tspan> Plans are for personal use only. Do not copy or</text>
<text x="1581.8" y="1537.8" font-size="16.8">reproduce these drawings or associated files without written permission.</text>
<text x="1589.6" y="1581.8" font-size="21.8">SCALE</text>
<text x="1683.8" y="1585.3" font-size="32.2">1:25</text>
<text x="1873.2" y="1581.8" font-size="21.8">DATE</text>
<text x="1958.4" y="1585.3" font-size="33.0">2023-01-22</text>
<text x="1589.6" y="1633.4" font-size="21.5">UNITS</text>
<text x="1682" y="1633.4" font-size="27.1">INCH[mm]</text>
<text x="1873.8" y="1633.4" font-size="21.6">SHEET</text>
<text x="1992.8" y="1636" font-size="31.6">1/11</text>
</svg></body></html>
